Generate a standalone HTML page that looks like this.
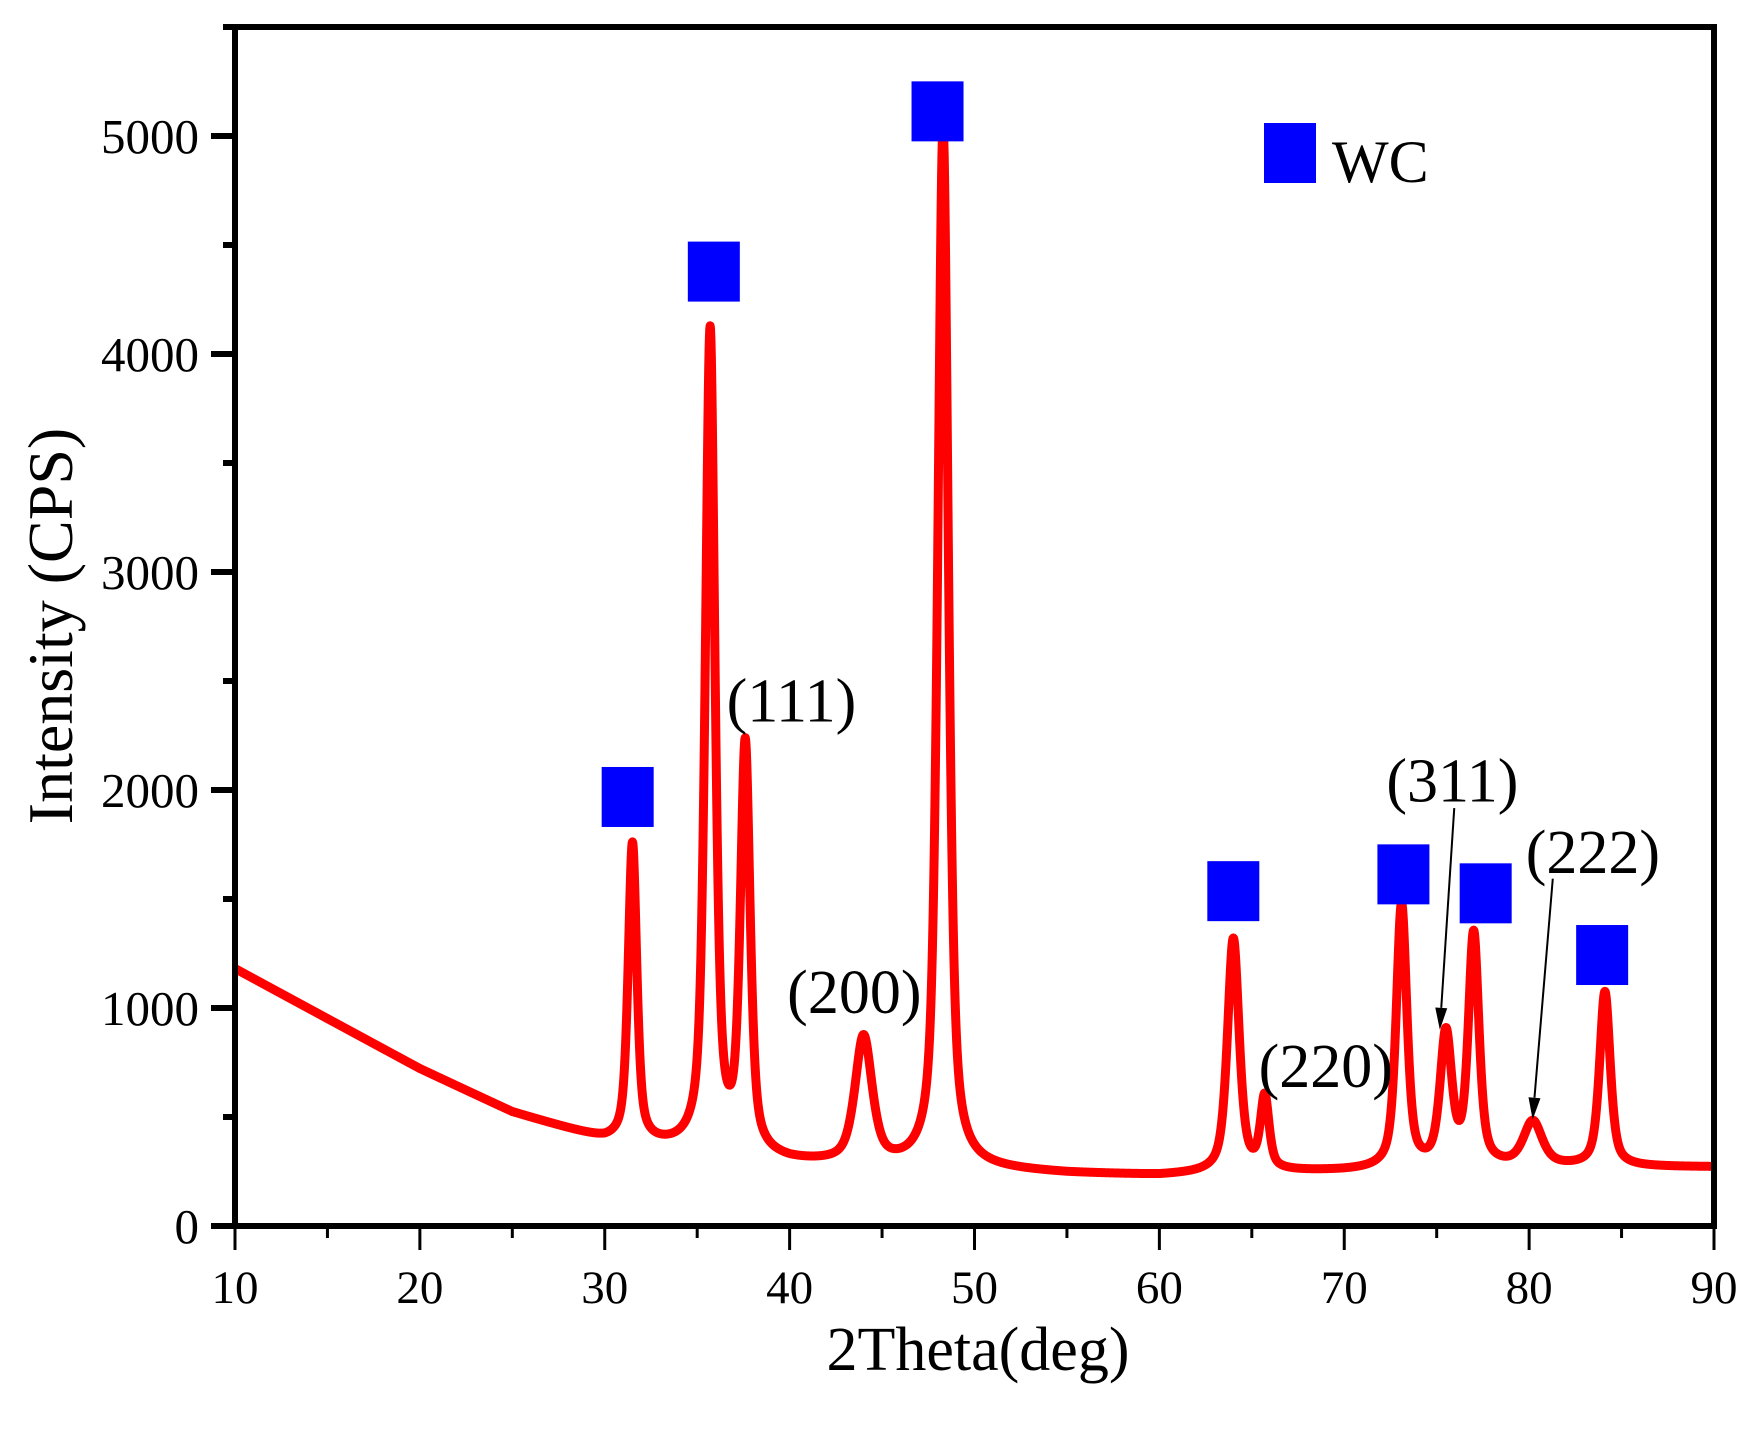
<!DOCTYPE html>
<html><head><meta charset="utf-8"><style>
html,body{margin:0;padding:0;background:#fff;}
svg{display:block;font-family:"Liberation Serif",serif;}
</style></head><body>
<svg id="chart" width="1754" height="1432" viewBox="0 0 1754 1432" xmlns="http://www.w3.org/2000/svg"></svg>
<script>
// ---- data ----
const xTicks=[10,20,30,40,50,60,70,80,90];
const yTicks=[0,1000,2000,3000,4000,5000];
const bgX=[10,15,20,25,30,35,40,45,50,55,60,65,70,75,80,85,90];
const bgY=[1180,950,720,520,390,340,290,270,260,240,230,245,250,260,270,270,270];
const peakPos=[31.5,35.7,37.6,44.0,48.3,64.0,65.7,73.1,75.5,77.0,80.2,84.1];
const peakHeight=[1370,3760,1860,580,4770,1070,330,1210,600,1060,200,800];
const peakWidth=[0.55,0.62,0.62,1.1,0.68,0.75,0.55,0.68,0.75,0.68,1.2,0.68];
const wcX=[31.24,35.9,48.0,64.0,73.2,77.65,83.95];
const wcY=[1968,4378,5113,1536,1613,1526,1243];
const hklText=["(111)","(200)","(220)","(311)","(222)"];
const hklX=[40.1,43.5,69.0,75.85,83.45];
const hklY=[2405,1069,730,2040,1711];
const arrowFromX=[75.95,81.28],arrowFromY=[1917,1593],arrowToX=[75.17,80.19],arrowToY=[900,488];

const X0=235,X1=1714,Y0=1226,YT=27;
const sx=v=>X0+(v-10)/80*(X1-X0);
const sy=v=>Y0-v/5500*(Y0-YT);
const NS="http://www.w3.org/2000/svg";
const svg=document.getElementById('chart');
function mk(tag,attrs,parent){const e=document.createElementNS(NS,tag);for(const k in attrs)e.setAttribute(k,attrs[k]);(parent||svg).appendChild(e);return e;}

function bg(x){for(let i=0;i<bgX.length-1;i++){if(x<=bgX[i+1]){const t=(x-bgX[i])/(bgX[i+1]-bgX[i]);return bgY[i]+t*(bgY[i+1]-bgY[i]);}}return bgY[bgY.length-1];}
function inten(x){let v=bg(x);for(let i=0;i<peakPos.length;i++){const g=peakWidth[i]/2;const d=x-peakPos[i];v+=peakHeight[i]*(0.6*g*g/(d*d+g*g)+0.4*Math.exp(-Math.log(2)*d*d/(g*g)));}return v;}
let d="";
for(let x=10;x<=90.0001;x+=0.02){d+=(d?"L":"M")+sx(x).toFixed(2)+","+sy(inten(x)).toFixed(2);}
const line=mk('path',{d:d,fill:'none',stroke:'#ff0000','stroke-width':9,'stroke-linejoin':'round'});



for(let i=0;i<wcX.length;i++){
  const r=mk('rect',{x:sx(wcX[i])-26,y:sy(wcY[i])-30,width:52,height:60,fill:'#0000ff'});
  
  
}
for(let i=0;i<hklText.length;i++){
  const t=mk('text',{x:sx(hklX[i]),y:sy(hklY[i])+20,'font-size':62,'text-anchor':'middle'});
  t.textContent=hklText[i];
  
  
}
for(let i=0;i<arrowFromX.length;i++){
  const x1=sx(arrowFromX[i]),y1=sy(arrowFromY[i]),x2=sx(arrowToX[i]),y2=sy(arrowToY[i]);
  const a=Math.atan2(y2-y1,x2-x1);
  const g=mk('g',{});
  
  
  const bx=x2-22*Math.cos(a),by=y2-22*Math.sin(a);
  mk('line',{x1:x1,y1:y1,x2:bx,y2:by,stroke:'#000','stroke-width':2},g);
  const px=-Math.sin(a)*6,py=Math.cos(a)*6;
  mk('polygon',{points:`${x2},${y2} ${bx+px},${by+py} ${bx-px},${by-py}`,fill:'#000'},g);
}
const lg=mk('g',{});


mk('rect',{x:1264,y:123,width:52,height:60,fill:'#0000ff'},lg);
const lt=mk('text',{x:1332,y:182,'font-size':60},lg);lt.textContent="WC";

const ax=mk('g',{});


mk('rect',{x:X0,y:YT,width:X1-X0,height:Y0-YT,fill:'none',stroke:'#000','stroke-width':6},ax);
for(let v=0;v<=5500;v+=500){const y=sy(v);const L=(v%1000===0)?24:12;mk('line',{x1:X0-L,y1:y,x2:X0,y2:y,stroke:'#000','stroke-width':6},ax);}
for(let v=10;v<=90;v+=5){const x=sx(v);const L=(v%10===0)?24:12;mk('line',{x1:x,y1:Y0,x2:x,y2:Y0+L,stroke:'#000','stroke-width':3},ax);}
yTicks.forEach(v=>{const t=mk('text',{x:X0-36,y:sy(v)+17,'font-size':49,'text-anchor':'end'});t.textContent=v;
  });
xTicks.forEach(v=>{const t=mk('text',{x:sx(v),y:1303,'font-size':47,'text-anchor':'middle'});t.textContent=v;
  });
const xt=mk('text',{x:978,y:1370,'font-size':62,'text-anchor':'middle'});xt.textContent="2Theta(deg)";

const yt=mk('text',{x:0,y:0,'font-size':64,'text-anchor':'middle',transform:'translate(72,626) rotate(-90)'});yt.textContent="Intensity (CPS)";

</script>
</body></html>
